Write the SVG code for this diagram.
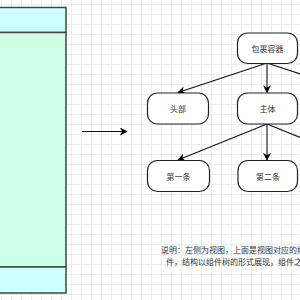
<svg xmlns="http://www.w3.org/2000/svg" width="300" height="300" viewBox="0 0 300 300">
<defs>
<pattern id="grid" width="10" height="10" patternUnits="userSpaceOnUse" x="1" y="4">
<path d="M0 0.5H10M0.5 0V10" fill="none" stroke="#ececec" stroke-width="1"/>
</pattern>
<marker id="arr" viewBox="0 0 10 10" refX="9" refY="5" markerWidth="8" markerHeight="8" orient="auto" markerUnits="userSpaceOnUse">
<path d="M0 0L10 5L0 10L3 5Z" fill="#000"/>
</marker>
<style>
.node rect{fill:#fff;stroke:#222;stroke-width:1.2}
.lbl{font-family:"Noto Sans CJK SC","Noto Sans",sans-serif;font-size:8px;fill:#333;text-anchor:middle;dominant-baseline:central}
.edge{fill:none;stroke:#111;stroke-width:1.1;marker-end:url(#arr)}
.desc{font-family:"Noto Sans CJK SC","Noto Sans",sans-serif;font-size:8px;fill:#333}
</style>
</defs>
<rect width="300" height="300" fill="#fff"/>
<rect width="300" height="300" fill="url(#grid)"/>
<g id="view">
<rect x="-10" y="7.5" width="76" height="25" fill="#ccffff" stroke="#444" stroke-width="1.5"/>
<rect x="-10" y="32.5" width="76" height="234.5" fill="#ccffe6" stroke="#444" stroke-width="1.5"/>
<rect x="-10" y="267" width="76" height="26" fill="#ccffff" stroke="#444" stroke-width="1.5"/>
</g>
<g id="connectors">
<line class="edge" x1="82" y1="131.5" x2="127" y2="131.5"/>
<line class="edge" x1="267" y1="63" x2="178" y2="92.5"/>
<line class="edge" x1="267" y1="63" x2="267" y2="92.5"/>
<line class="edge" x1="267" y1="63" x2="356" y2="92.5"/>
<line class="edge" x1="267" y1="124" x2="178" y2="160"/>
<line class="edge" x1="267" y1="124" x2="267" y2="160"/>
<line class="edge" x1="267" y1="124" x2="356" y2="160"/>
</g>
<g id="n-wrap" class="node"><rect x="237.5" y="33" width="60" height="30.5" rx="10"/><text class="lbl" x="267.5" y="48">包裹容器</text></g>
<g id="n-head" class="node"><rect x="147.5" y="93" width="61" height="31" rx="10"/><text class="lbl" x="178" y="108.5">头部</text></g>
<g id="n-body" class="node"><rect x="237.5" y="93" width="60" height="31" rx="10"/><text class="lbl" x="267.5" y="108.5">主体</text></g>
<g id="n-first" class="node"><rect x="147.5" y="160.5" width="62" height="31" rx="10"/><text class="lbl" x="178.5" y="176">第一条</text></g>
<g id="n-second" class="node"><rect x="238" y="160.5" width="59.5" height="31" rx="10"/><text class="lbl" x="268" y="176">第二条</text></g>
<g id="note">
<text class="desc" x="161" y="253">说明：左侧为视图，上面是视图对应的组</text>
<text class="desc" x="166" y="265">件，结构以组件树的形式展现，组件之</text>
</g>
</svg>
